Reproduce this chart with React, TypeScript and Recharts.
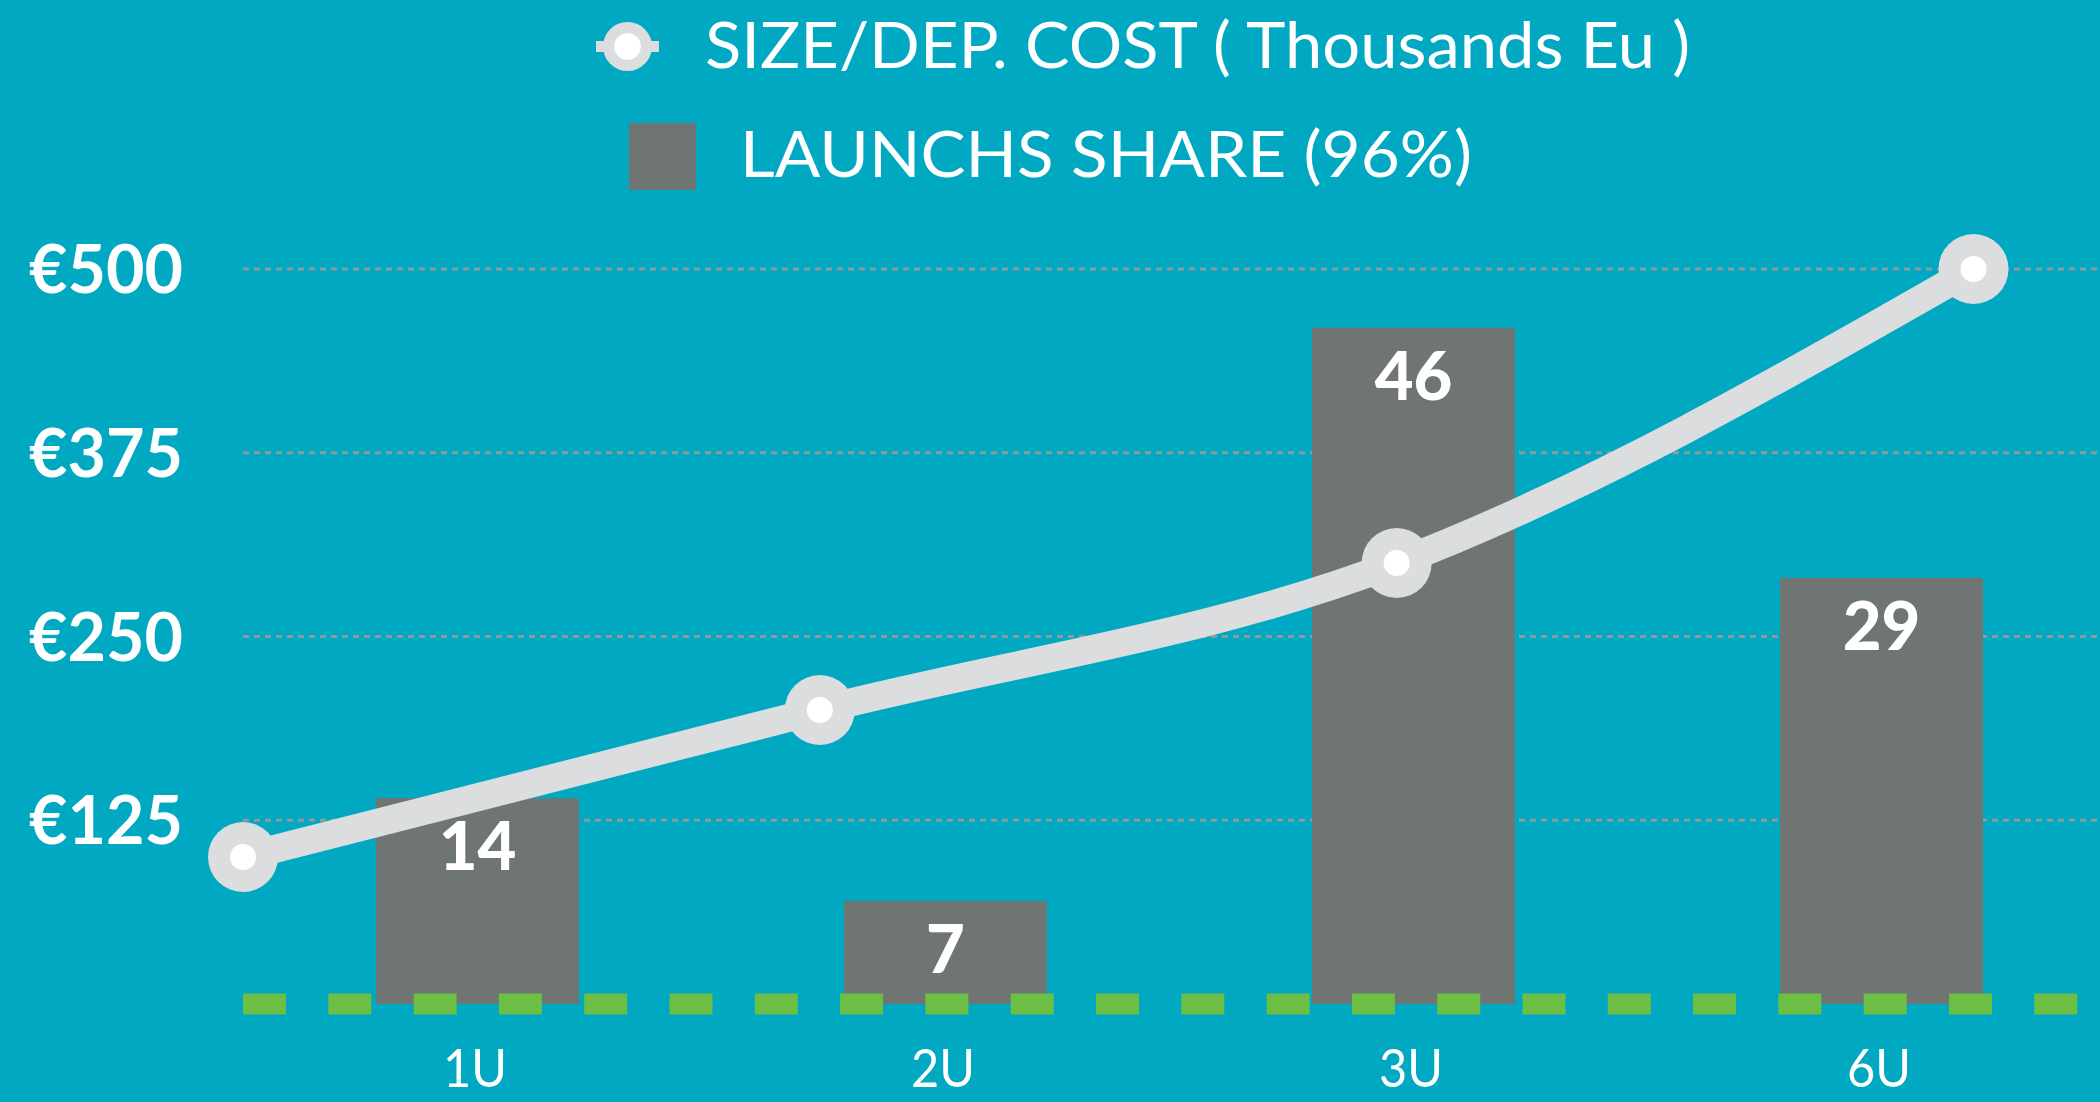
import React from 'react';
import {
  ComposedChart,
  Bar,
  Line,
  XAxis,
  YAxis,
  CartesianGrid,
  ReferenceLine,
  Legend,
  LabelList,
} from 'recharts';

const categories = ['1U', '2U', '3U', '6U'];
const costValues = [100, 200, 300, 500];
const launchShare = [14, 7, 46, 29];
const costTicks = [0, 125, 250, 375, 500];
const gridValues = [125, 250, 375, 500];
const shareDomain = [0, 50];

const costName = 'SIZE/DEP. COST ( Thousands Eu )';
const shareName = 'LAUNCHS SHARE (96%)';

const data = categories.map((name, i) => ({
  name,
  cost: costValues[i],
  share: launchShare[i],
}));

const BG = '#00a8c2';
const BAR = '#6e7572';
const LINE = '#dcdddf';
const GREEN = '#6dbe45';
const GRID = '#8e9a9c';
const FONT = 'Lato, "Open Sans", sans-serif';

const YTick = (props: any) => {
  const { x, y, payload } = props;
  if (payload.value === 0) return null;
  return (
    <text
      x={x - 60}
      y={y + 24}
      textAnchor="end"
      fill="#ffffff"
      fontFamily={FONT}
      fontWeight={700}
      fontSize={67}
      textLength={154}
      lengthAdjust="spacingAndGlyphs"
    >
      {'€' + payload.value}
    </text>
  );
};

const XTick = (props: any) => {
  const { x, y, payload } = props;
  return (
    <text
      x={x - 2}
      y={y + 83}
      textAnchor="middle"
      fill="#ffffff"
      fontFamily={FONT}
      fontWeight={400}
      fontSize={52}
      textLength={64}
      lengthAdjust="spacingAndGlyphs"
    >
      {payload.value}
    </text>
  );
};

const BarLabel = (props: any) => {
  const { x, y, width, value } = props;
  return (
    <text
      x={x + width / 2}
      y={y + 72}
      textAnchor="middle"
      fill="#ffffff"
      fontFamily={FONT}
      fontWeight={900}
      fontSize={67}
    >
      {value}
    </text>
  );
};

const Dot = (props: any) => {
  const { cx, cy, index } = props;
  return (
    <g key={'dot-' + index}>
      <circle cx={cx} cy={cy} r={35} fill={LINE} />
      <circle cx={cx} cy={cy} r={13} fill="#ffffff" />
    </g>
  );
};

const LegendContent = (props: any) => {
  const payload = props.payload || [];
  const lineItem = payload.find((p: any) => p.dataKey === 'cost');
  const barItem = payload.find((p: any) => p.dataKey === 'share');
  return (
    <svg width={2100} height={200} style={{ display: 'block' }}>
      {lineItem && (
        <g>
          <rect x={596} y={41} width={63} height={11} fill={LINE} />
          <circle cx={627.5} cy={46.5} r={24.5} fill={LINE} />
          <circle cx={627.5} cy={46.5} r={13.3} fill="#ffffff" />
          <text
            x={705}
            y={67.5}
            fill="#ffffff"
            fontFamily={FONT}
            fontWeight={400}
            fontSize={63}
            textLength={985}
            lengthAdjust="spacingAndGlyphs"
          >
            {lineItem.value}
          </text>
        </g>
      )}
      {barItem && (
        <g>
          <rect x={629} y={123} width={67} height={67} fill={BAR} />
          <text
            x={740}
            y={176.7}
            fill="#ffffff"
            fontFamily={FONT}
            fontWeight={400}
            fontSize={63}
            textLength={732}
            lengthAdjust="spacingAndGlyphs"
          >
            {barItem.value}
          </text>
        </g>
      )}
    </svg>
  );
};

export default function App() {
  return (
    <div
      style={{
        position: 'fixed',
        left: 0,
        top: 0,
        width: 2100,
        height: 1102,
        overflow: 'hidden',
        background: BG,
      }}
    >
      <ComposedChart
        width={2130}
        height={1102}
        data={data}
        margin={{ top: 269, right: 15, bottom: 0, left: 0 }}
      >
        <CartesianGrid
          yAxisId="left"
          xAxisId="bar"
          vertical={false}
          horizontalValues={gridValues}
          stroke={GRID}
          strokeWidth={3}
          strokeDasharray="6 5"
        />
        <XAxis
          xAxisId="bar"
          dataKey="name"
          axisLine={false}
          tickLine={false}
          tickSize={0}
          tickMargin={0}
          height={98}
          tick={<XTick />}
          interval={0}
        />
        <XAxis
          xAxisId="line"
          dataKey="name"
          scale="point"
          padding={{ left: 0, right: 141.5 }}
          hide
        />
        <YAxis
          yAxisId="left"
          orientation="left"
          domain={[0, 500]}
          ticks={costTicks}
          axisLine={false}
          tickLine={false}
          tickSize={0}
          tickMargin={0}
          width={243}
          tick={<YTick />}
          interval={0}
        />
        <YAxis yAxisId="right" orientation="right" domain={shareDomain} hide />
        <Legend
          layout="horizontal"
          verticalAlign="middle"
          align="center"
          wrapperStyle={{ top: 0, left: 0, width: 2100, height: 200 }}
          content={<LegendContent />}
        />
        <Bar
          xAxisId="bar"
          yAxisId="right"
          dataKey="share"
          name={shareName}
          fill={BAR}
          barSize={203}
          isAnimationActive={false}
        >
          <LabelList dataKey="share" content={<BarLabel />} />
        </Bar>
        <ReferenceLine
          yAxisId="left"
          xAxisId="bar"
          y={0}
          stroke={GREEN}
          strokeWidth={21}
          strokeDasharray="43 42.3"
        />
        <Line
          xAxisId="line"
          yAxisId="left"
          dataKey="cost"
          name={costName}
          type="monotone"
          stroke={LINE}
          strokeWidth={28}
          dot={<Dot />}
          activeDot={false}
          isAnimationActive={false}
        />
      </ComposedChart>
    </div>
  );
}
